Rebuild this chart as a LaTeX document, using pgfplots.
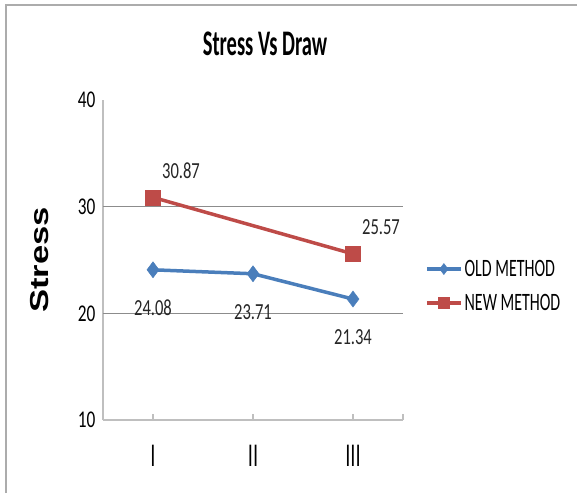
\documentclass[border=0pt]{standalone}
\usepackage{fontspec}
\setmainfont{Carlito}
\newfontfamily\titlefont{Carlito}[FakeStretch=0.57]
\newfontfamily\labfont{Carlito}[FakeStretch=0.72]
\newfontfamily\legfont{Carlito}[FakeStretch=0.64]
\newfontfamily\tickfont{Carlito}[FakeStretch=0.72]
\newfontfamily\xtickfont{Liberation Sans}[FakeStretch=0.6]
\newfontfamily\ylabfont{Liberation Sans}[FakeStretch=1.33]
\usepackage{pgfplots}
\pgfplotsset{compat=1.18}
\definecolor{oldblue}{HTML}{4A7EBB}
\definecolor{newred}{HTML}{BE4B48}
\definecolor{axgray}{HTML}{BFBFBF}
\definecolor{gridgray}{HTML}{8C8C8C}
\begin{document}
\begin{tikzpicture}[x=1pt,y=1pt]
\useasboundingbox (0,0) rectangle (577,493);
\draw[color=axgray!90!black, line width=1.8pt] (6,0) -- (6,488) -- (577,488);
\begin{axis}[
  at={(103pt,73pt)}, anchor=south west,
  scale only axis, width=300pt, height=320pt,
  xmin=0.5, xmax=3.5, ymin=10, ymax=40,
  axis x line*=bottom, axis y line*=left,
  axis line style={draw=axgray, line width=1.8pt, -},
  xtick={1,2,3}, xticklabels={I,II,III},
  extra x ticks={3.5}, extra x tick labels={},
  xtick style={draw=axgray, line width=1.5pt},
  tick align=inside, major tick length=6pt,
  ytick={10,20,30,40},
  ytick style={draw=none},
  extra y ticks={20,30}, extra y tick labels={},
  extra y tick style={grid=major, ytick style={draw=none}},
  major grid style={draw=gridgray, line width=1.1pt},
  /pgf/number format/assume math mode=true,
  yticklabel style={font=\tickfont\fontsize{24}{24}\selectfont, anchor=east, xshift=-4pt},
  xticklabel style={font=\xtickfont\fontsize{31}{31}\selectfont, anchor=north, yshift=-22pt},
  title={Stress Vs Draw},
  title style={font=\titlefont\bfseries\fontsize{36}{36}\selectfont, at={(axis description cs:0.54,1.156)}, anchor=center},
  ylabel={Stress},
  ylabel style={font=\ylabfont\bfseries\fontsize{26}{26}\selectfont, at={(axis description cs:-0.21,0.5)}, anchor=center},
  legend style={draw=none, fill=none, at={(axis description cs:1.073,0.419)}, anchor=west,
    font=\legfont\fontsize{25}{25}\selectfont, row sep=12pt, inner sep=0pt},
  legend cell align=left,
  legend image code/.code={\draw[#1, mark size=5.5pt, mark repeat=2, mark phase=2] plot coordinates {(0pt,0pt) (17pt,0pt) (34pt,0pt)};},
  clip=false,
]
\addplot[color=oldblue, line width=3.5pt, mark=diamond*, mark size=8pt, mark options={solid, fill=oldblue, line width=0.5pt},
  nodes near coords, point meta=explicit symbolic,
  every node near coord/.style={font=\labfont\fontsize{23}{23}\selectfont, text=black!85, anchor=center, yshift=-38pt}]
  coordinates {(1,24.08) [24.08] (2,23.71) [23.71] (3,21.34) [21.34]};
\addlegendentry{OLD METHOD}
\addplot[color=newred, line width=3.5pt, mark=square*, mark size=7.5pt, mark options={solid, fill=newred, line width=0.5pt},
  nodes near coords, point meta=explicit symbolic,
  every node near coord/.style={font=\labfont\fontsize{23}{23}\selectfont, text=black!85, anchor=center, xshift=28pt, yshift=27pt}]
  coordinates {(1,30.87) [30.87] (3,25.57) [25.57]};
\addlegendentry{NEW METHOD}
\end{axis}
\end{tikzpicture}
\end{document}
